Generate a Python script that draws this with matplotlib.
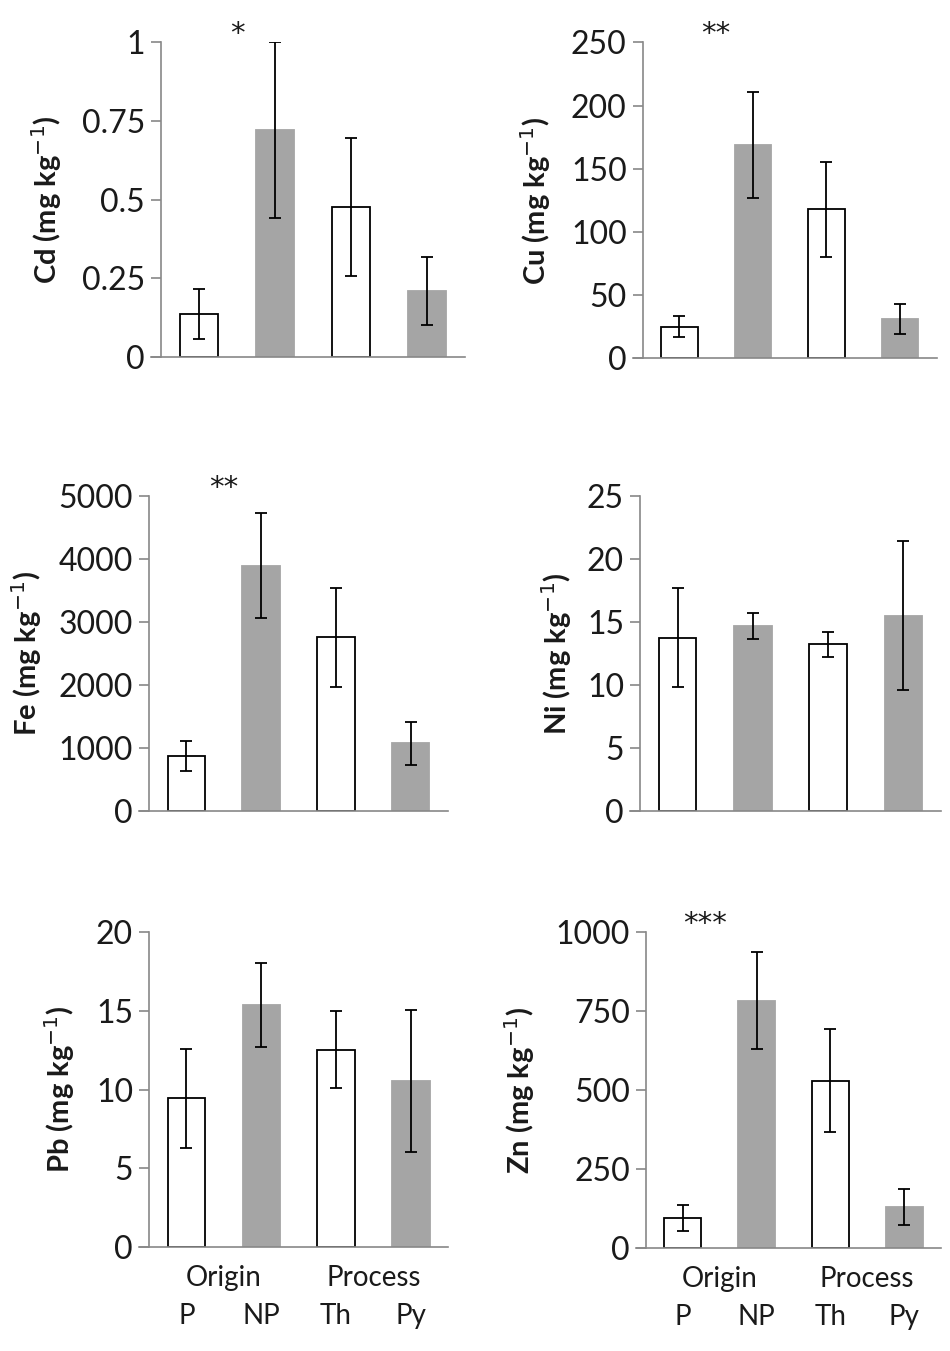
import matplotlib
matplotlib.use("Agg")
import matplotlib.pyplot as plt
import matplotlib.transforms as mtransforms

plt.rcParams['font.family'] = ['Lato', 'DejaVu Sans']

categories = ["P", "NP", "Th", "Py"]
groups = ["Origin", "Process"]
elements = ["Cd", "Cu", "Fe", "Ni", "Pb", "Zn"]

cd_mean = [0.136, 0.72, 0.477, 0.209]
cd_err = [0.08, 0.28, 0.22, 0.109]
cu_mean = [25.1, 169, 117.9, 30.9]
cu_err = [8, 42, 37.5, 12]
fe_mean = [868, 3889, 2751, 1074]
fe_err = [238, 830, 785, 341]
ni_mean = [13.73, 14.68, 13.2, 15.48]
ni_err = [3.93, 1.02, 1.02, 5.9]
pb_mean = [9.45, 15.38, 12.54, 10.55]
pb_err = [3.16, 2.68, 2.43, 4.5]
zn_mean = [94.9, 783.8, 529.5, 131.9]
zn_err = [41, 154.5, 163, 57]

yticks = {
    "Cd": [0, 0.25, 0.5, 0.75, 1],
    "Cu": [0, 50, 100, 150, 200, 250],
    "Fe": [0, 1000, 2000, 3000, 4000, 5000],
    "Ni": [0, 5, 10, 15, 20, 25],
    "Pb": [0, 5, 10, 15, 20],
    "Zn": [0, 250, 500, 750, 1000],
}
ytick_labels = {
    "Cd": ["0", "0.25", "0.5", "0.75", "1"],
    "Cu": ["0", "50", "100", "150", "200", "250"],
    "Fe": ["0", "1000", "2000", "3000", "4000", "5000"],
    "Ni": ["0", "5", "10", "15", "20", "25"],
    "Pb": ["0", "5", "10", "15", "20"],
    "Zn": ["0", "250", "500", "750", "1000"],
}
stars = {"Cd": "*", "Cu": "**", "Fe": "**", "Ni": "", "Pb": "", "Zn": "***"}
star_x = {"Cd": 0.5, "Cu": 0.5, "Fe": 0.5, "Ni": 0.5, "Pb": 0.5, "Zn": 0.3}

data = {
    "Cd": (cd_mean, cd_err), "Cu": (cu_mean, cu_err), "Fe": (fe_mean, fe_err),
    "Ni": (ni_mean, ni_err), "Pb": (pb_mean, pb_err), "Zn": (zn_mean, zn_err),
}

W, H = 950, 1351
# axes rects in pixels: left, top, right, bottom
rects = {
    "Cd": (161, 42.3, 465, 356.7),
    "Cu": (642.7, 42.3, 936.7, 358.3),
    "Fe": (149, 495.7, 448, 810.7),
    "Ni": (640, 495.7, 941, 810.7),
    "Pb": (149, 932.3, 448.3, 1247),
    "Zn": (646, 932.3, 941, 1248.3),
}
label_x = {"Cd": -0.375, "Cu": -0.366, "Fe": -0.41, "Ni": -0.277, "Pb": -0.298, "Zn": -0.427}
bottom_row = {"Pb", "Zn"}

fig = plt.figure(figsize=(W / 100, H / 100), dpi=100)
axis_col = "#888888"
grey = "#a5a5a5"
txt = "#1a1a1a"

for el in elements:
    l, t, r, b = rects[el]
    ax = fig.add_axes([l / W, 1 - b / H, (r - l) / W, (b - t) / H])
    mean, err = data[el]
    x = list(range(len(categories)))
    colors = ["white", grey, "white", grey]
    edges = ["black", grey, "black", grey]
    ax.bar(x, mean, width=0.5, color=colors, edgecolor=edges, linewidth=1.3, zorder=2)
    ax.errorbar(x, mean, yerr=err, fmt="none", ecolor="black", elinewidth=1.3,
                capsize=4, capthick=1.3, zorder=3)
    ax.set_xlim(-0.5, 3.5)
    yt = yticks[el]
    ax.set_ylim(yt[0], yt[-1])
    ax.set_yticks(yt, ytick_labels[el])
    for s in ["top", "right"]:
        ax.spines[s].set_visible(False)
    for s in ["left", "bottom"]:
        ax.spines[s].set_color(axis_col)
        ax.spines[s].set_linewidth(1.2)
    px_per_unit = (r - l) / 4.0
    ax.spines["bottom"].set_bounds(-0.5 - 10 / px_per_unit, 3.5)
    ax.tick_params(axis="y", direction="out", length=7.5, width=1.2, color=axis_col,
                   labelsize=23, labelcolor=txt, pad=4)
    ax.set_ylabel(f"{el} (mg kg$^{{-1}}$)", fontsize=21, fontweight="bold", color=txt,
                  va="center")
    ax.yaxis.set_label_coords(label_x[el], 0.5)
    if el in bottom_row:
        ax.set_xticks(x, categories)
        ax.tick_params(axis="x", length=0, labelsize=20, labelcolor=txt, pad=40)
        trans = mtransforms.offset_copy(ax.get_xaxis_transform(), fig=fig, x=0, y=-31, units="dots")
        ax.text(0.5, 0, groups[0], transform=trans, ha="center", va="center", fontsize=20, color=txt)
        ax.text(2.5, 0, groups[1], transform=trans, ha="center", va="center", fontsize=20, color=txt)
    else:
        ax.set_xticks([])
    if stars[el]:
        trans = mtransforms.offset_copy(ax.get_xaxis_transform(), fig=fig, x=0, y=8, units="dots")
        ax.text(star_x[el], 1, stars[el], transform=trans, ha="center", va="center",
                fontsize=21, color=txt, family="DejaVu Sans")

fig.savefig("out.png", dpi=100)
